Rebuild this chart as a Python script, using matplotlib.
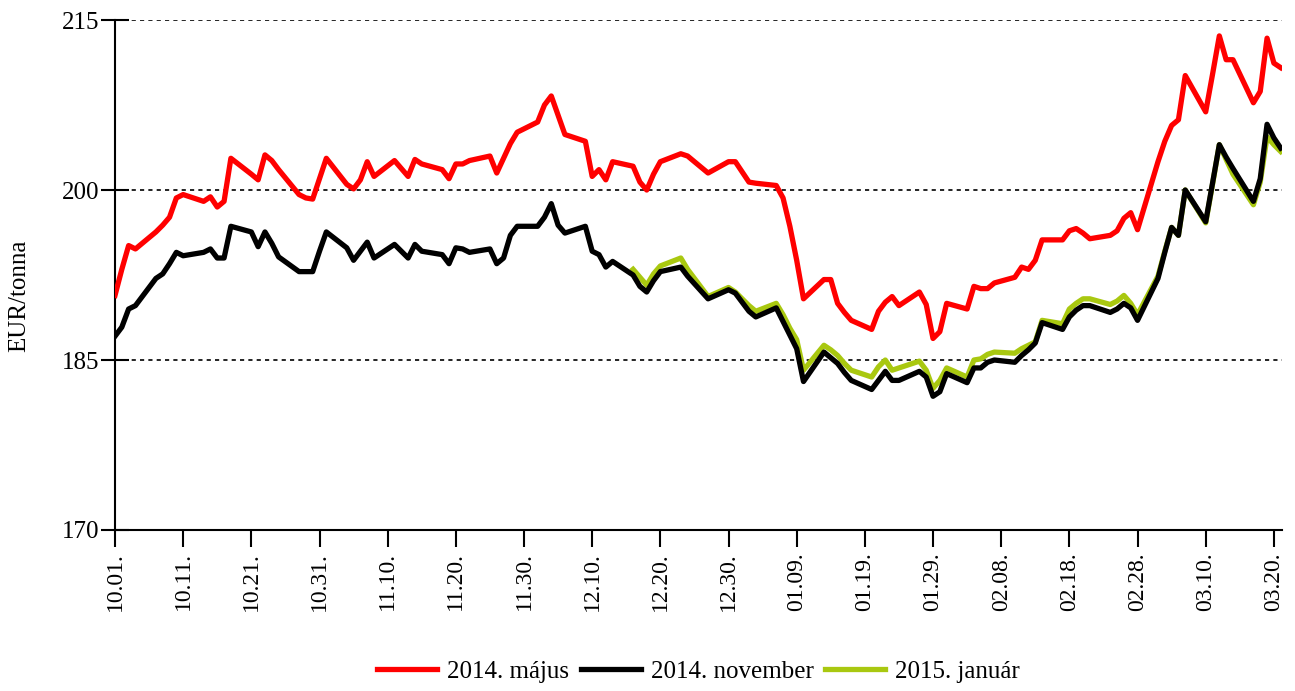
import matplotlib
matplotlib.use("Agg")
import matplotlib.pyplot as plt
import pandas as pd

plt.rcParams["font.family"] = ["Liberation Serif", "DejaVu Serif"]
plt.rcParams["font.size"] = 18

# trading days (Euronext holidays removed)
holidays = ["2013-12-25", "2013-12-26", "2014-01-01"]
dates = pd.bdate_range("2013-10-01", "2014-03-21")
dates = dates[~dates.isin(pd.to_datetime(holidays))]

may_2014 = [
    # Oct
    190.7, 193.0, 195.1, 194.8, 196.3, 196.9, 197.6, 199.3, 199.6, 199.0,
    199.4, 198.5, 199.0, 202.8, 201.4, 200.9, 203.1, 202.6, 201.8, 199.6,
    199.3, 199.2, 201.0,
    # Nov
    202.8, 200.5, 200.1, 200.9, 202.5, 201.2, 202.6, 201.9, 201.2, 202.7,
    202.3, 201.8, 201.0, 202.3, 202.3, 202.6, 203.0, 201.5, 202.8, 204.1,
    205.1,
    # Dec
    206.0, 207.5, 208.3, 206.6, 204.9, 204.3, 201.2, 201.8, 200.9, 202.5,
    202.1, 200.7, 200.0, 201.4, 202.5, 203.2, 203.0, 201.5, 202.5, 202.5,
    # Jan
    200.7, 200.6, 200.4, 199.3, 196.8, 193.8, 190.4, 192.1, 192.1, 190.0,
    189.2, 188.5, 187.7, 189.3, 190.1, 190.6, 189.8, 191.0, 189.9, 186.9,
    187.5, 190.0,
    # Feb
    189.5, 191.5, 191.3, 191.3, 191.8, 192.3, 193.2, 193.0, 193.8, 195.6,
    195.6, 196.4, 196.6, 196.2, 195.7, 196.0, 196.4, 197.5, 198.0, 196.5,
    # Mar
    202.5, 204.3, 205.7, 206.2, 210.1, 206.9, 210.2, 213.6, 211.5, 211.5,
    207.7, 208.7, 213.4, 211.2, 210.8,
]

nov_2014 = [
    # Oct
    187.1, 187.9, 189.5, 189.8, 192.2, 192.6, 193.5, 194.5, 194.2, 194.5,
    194.8, 194.0, 194.0, 196.8, 196.3, 195.0, 196.3, 195.3, 194.1, 192.8,
    192.8, 192.8, 194.6,
    # Nov
    196.3, 194.9, 193.8, 194.6, 195.4, 194.0, 195.2, 194.6, 194.0, 195.2,
    194.6, 194.3, 193.5, 194.9, 194.8, 194.5, 194.8, 193.5, 194.0, 196.0,
    196.8,
    # Dec
    196.8, 197.6, 198.8, 196.9, 196.2, 196.8, 194.6, 194.3, 193.2, 193.7,
    192.5, 191.5, 191.0, 192.0, 192.8, 193.2, 192.4, 190.4, 191.2, 190.9,
    # Jan
    189.3, 188.8, 189.6, 188.4, 187.2, 186.0, 183.1, 185.7, 185.2, 184.7,
    183.9, 183.2, 182.4, 183.2, 184.0, 183.2, 183.2, 184.0, 183.5, 181.8,
    182.2, 183.8,
    # Feb
    183.0, 184.3, 184.3, 184.8, 185.0, 184.8, 185.4, 185.9, 186.5, 188.3,
    187.7, 188.8, 189.4, 189.8, 189.8, 189.2, 189.5, 190.0, 189.6, 188.5,
    # Mar
    192.2, 194.5, 196.7, 196.0, 200.0, 197.2, 200.6, 204.0, 202.9, 201.9,
    199.0, 201.0, 205.8, 204.6, 203.7,
]

jan_2015_start = "2013-12-16"
jan_2015 = [
    # Dec
    193.0, 192.3, 191.6, 192.6, 193.3, 194.0, 193.0, 190.6, 191.4, 191.0,
    # Jan
    189.8, 189.3, 190.0, 189.0, 187.8, 186.8, 184.1, 186.3, 185.9, 185.4,
    184.7, 184.1, 183.5, 184.4, 185.0, 184.1, 184.3, 184.9, 184.1, 182.5,
    183.2, 184.3,
    # Feb
    183.5, 185.0, 185.1, 185.5, 185.7, 185.6, 186.0, 186.3, 186.6, 188.5,
    188.2, 189.5, 190.0, 190.4, 190.4, 189.9, 190.2, 190.7, 190.0, 189.0,
    # Mar
    192.4, 194.6, 196.7, 196.0, 200.0, 197.1, 200.5, 204.0, 202.7, 201.4,
    198.7, 200.7, 204.7, 204.0, 203.4,
]

series_names = ["2014. május", "2014. november", "2015. január"]
series_colors = ["#FF0000", "#000000", "#A9C810"]

tick_dates = pd.date_range("2013-10-01", "2014-03-20", freq="10D")
y_ticks = [170, 185, 200, 215]

jan_dates = dates[dates >= pd.Timestamp(jan_2015_start)]

fig = plt.figure(figsize=(12.95, 6.91), dpi=100)
ax = fig.add_axes([0.0888, 0.233, 0.9012, 0.738])

ax.plot(dates, may_2014, color=series_colors[0], lw=3.8,
        label=series_names[0], zorder=3)
ax.plot(dates, nov_2014, color=series_colors[1], lw=3.8,
        label=series_names[1], zorder=3)
ax.plot(jan_dates, jan_2015, color=series_colors[2], lw=3.8,
        label=series_names[2], zorder=2)

ax.set_ylim(170, 215)
ax.set_yticks(y_ticks)
x0 = pd.Timestamp("2013-10-01")
ax.set_xlim(x0, x0 + pd.Timedelta(days=171.2))
ax.set_xticks(tick_dates)
ax.set_xticklabels([d.strftime("%m.%d.") for d in tick_dates],
                   rotation=90, fontsize=17)

ax.yaxis.grid(True, color="black", linestyle=(0, (2.5, 2.5)), lw=1.2)
ax.set_axisbelow(True)

for spine in ["top", "right"]:
    ax.spines[spine].set_visible(False)
for spine in ["bottom", "left"]:
    ax.spines[spine].set_linewidth(1.5)

ax.tick_params(axis="y", direction="inout", length=20, width=1.5, pad=1)
ax.tick_params(axis="x", direction="out", length=12, width=1.5, pad=4)

ax.set_ylabel("EUR/tonna")
ax.yaxis.set_label_coords(-0.0728, 0.46)

ax.legend(loc="center", bbox_to_anchor=(0.5, -0.278), ncol=3,
          frameon=False, handlelength=2.4, handletextpad=0.4,
          columnspacing=0.45)

fig.savefig("out.png", dpi=100)
